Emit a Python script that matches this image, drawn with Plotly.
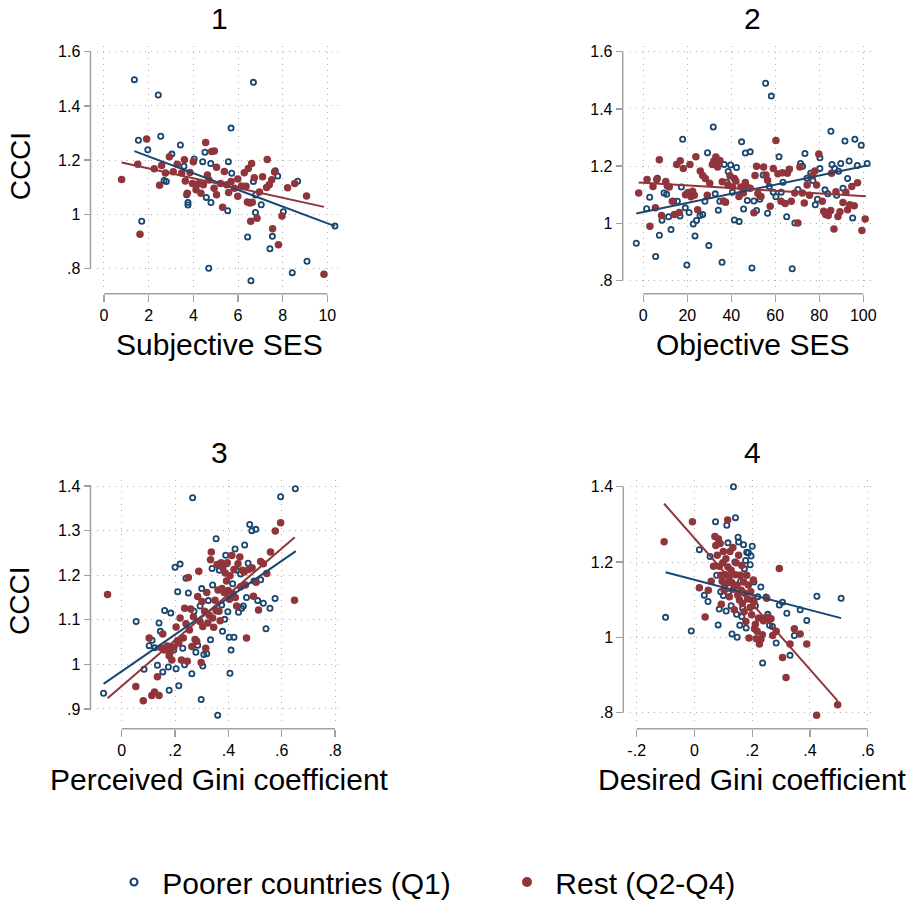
import plotly.graph_objects as go

BLUE = "#1a476f"
RED = "#90353b"
AXC = "#a0a0a0"
GRIDC = "#b0b0b0"
FONT = "Liberation Sans, Arial, Helvetica, sans-serif"

# ---------------- Panel 1: Subjective SES ----------------
p1_q1_x = [1.36, 6.69, 2.43, 5.69, 1.54, 2.54, 1.96, 3.42, 3.04, 4.52, 4.04, 4.42, 4.78, 5.57, 3.58,
           5.72, 7.67, 7.78, 8.67, 2.69, 2.79, 6.69, 6.79, 3.70, 3.76, 3.76, 4.58, 4.79, 5.54, 6.78,
           7.04, 8.03, 10.34, 1.69, 6.43, 7.54, 7.43, 9.09, 8.43, 4.69, 6.58]
p1_q1_y = [1.497, 1.487, 1.440, 1.318, 1.273, 1.288, 1.238, 1.256, 1.222, 1.229, 1.204, 1.194, 1.187, 1.194, 1.177,
           1.151, 1.160, 1.141, 1.122, 1.124, 1.121, 1.121, 1.071, 1.072, 1.043, 1.034, 1.062, 1.043, 1.013, 1.006,
           1.035, 1.009, 0.956, 0.974, 0.916, 0.918, 0.872, 0.826, 0.784, 0.800, 0.754]
p1_rest_x = [0.79, 1.51, 1.91, 1.61, 2.25, 2.49, 2.58, 2.75, 2.93, 3.10, 3.28, 3.48, 3.60, 3.64, 3.73,
             3.85, 3.96, 4.00, 4.12, 4.22, 4.34, 4.45, 4.55, 4.63, 4.70, 4.82, 4.94, 4.93, 5.04, 5.04,
             5.22, 5.31, 5.39, 5.49, 5.58, 5.69, 5.84, 5.99, 5.99, 6.16, 6.28, 6.36, 6.46, 6.61, 6.42,
             6.54, 6.64, 6.73, 6.57, 6.85, 6.96, 7.10, 7.28, 7.40, 7.51, 7.31, 7.64, 7.55, 7.81, 7.97,
             8.22, 8.54, 9.07, 9.85]
p1_rest_y = [1.128, 1.184, 1.278, 0.926, 1.168, 1.107, 1.180, 1.152, 1.212, 1.157, 1.184, 1.152, 1.201, 1.123, 1.077,
             1.154, 1.113, 1.194, 1.090, 1.112, 1.077, 1.109, 1.265, 1.145, 1.126, 1.232, 1.233, 1.096, 1.173, 1.072,
             1.113, 1.026, 1.158, 1.109, 1.080, 1.121, 1.096, 1.066, 1.130, 1.104, 1.153, 1.103, 1.169, 1.187, 1.045,
             1.041, 1.044, 1.135, 0.974, 0.985, 1.082, 1.138, 1.099, 1.109, 1.127, 1.202, 1.156, 0.946, 0.887, 0.993,
             1.098, 1.113, 1.067, 0.778]
p1_fit_q1_x = [1.36, 10.34]
p1_fit_q1_y = [1.233, 0.956]
p1_fit_rest_x = [0.79, 9.85]
p1_fit_rest_y = [1.191, 1.027]

# ---------------- Panel 2: Objective SES ----------------
p2_q1_x = [-3.2, 1.5, 2.9, 6.4, 5.6, 7.3, 8.5, 9.4, 10.6, 11.5, 12.6, 13.8, 15.5, 16.7, 17.3, 17.9, 19.1, 19.8,
           20.8, 22.7, 23.5, 24.2, 25.8, 27.0, 28.0, 29.2, 29.8, 31.8, 32.7, 34.1, 34.8, 35.8, 36.8, 37.9,
           38.6, 39.7, 40.5, 41.4, 42.4, 43.6, 44.7, 45.6, 46.4, 47.3, 48.6, 49.4, 50.3, 51.5, 53.0, 54.5,
           55.6, 56.5, 57.3, 58.2, 59.1, 60.3, 61.7, 62.7, 63.5, 65.2, 67.7, 68.9, 70.3, 71.5, 72.4, 73.5,
           74.4, 76.1, 77.1, 78.2, 79.2, 80.3, 80.3, 82.6, 83.9, 85.3, 85.8, 87.0, 87.9, 88.8, 89.8, 90.8,
           91.7, 92.9, 93.6, 95.2, 96.2, 97.3, 99.1, 101.8]
p2_q1_y = [0.930, 1.051, 1.091, 1.158, 0.884, 0.958, 1.011, 1.106, 1.102, 1.023, 0.978, 1.077, 1.077, 1.026, 1.127,
           1.294, 1.054, 0.854, 1.038, 0.998, 0.956, 1.010, 1.027, 1.031, 1.077, 1.247, 0.922, 1.337, 1.103,
           1.046, 1.077, 0.864, 1.206, 1.144, 1.181, 1.204, 1.109, 1.012, 1.195, 1.006, 1.285, 1.050, 1.246,
           1.080, 1.250, 0.844, 1.078, 1.045, 1.084, 1.169, 1.490, 1.035, 1.129, 1.445, 1.109, 1.093, 1.233,
           1.109, 1.144, 1.023, 0.841, 1.001, 1.118, 1.209, 1.200, 1.244, 1.158, 1.175, 1.150, 1.065, 1.084,
           1.229, 1.192, 1.117, 1.103, 1.322, 1.206, 1.192, 1.098, 1.182, 1.209, 1.123, 1.288, 1.157, 1.218,
           1.019, 1.294, 1.202, 1.273, 1.209]
p2_rest_x = [-2.1, 1.7, 3.0, 4.4, 5.5, 6.1, 7.3, 8.3, 10.2, 10.9, 11.8, 13.2, 14.1, 15.2, 16.4, 16.8, 18.2, 19.2,
             20.3, 21.2, 21.7, 22.4, 23.2, 23.9, 24.7, 25.9, 27.0, 28.2, 29.1, 30.2, 31.4, 32.1, 33.0, 33.8,
             34.8, 35.9, 36.4, 37.4, 38.6, 39.4, 40.6, 41.4, 42.1, 43.5, 44.4, 45.5, 46.4, 47.3, 48.6, 50.3,
             50.8, 51.5, 52.1, 53.5, 54.7, 55.8, 56.5, 57.7, 59.1, 60.3, 61.2, 62.6, 63.3, 64.5, 65.5, 66.4,
             67.3, 68.9, 70.3, 71.2, 72.3, 73.2, 74.5, 75.6, 76.8, 78.0, 78.8, 79.8, 81.4, 82.0, 82.9, 84.1,
             85.2, 85.6, 86.7, 87.6, 88.5, 89.4, 90.8, 92.1, 92.9, 93.9, 94.8, 95.9, 97.4, 99.4, 100.9]
p2_rest_y = [1.106, 1.153, 0.990, 1.129, 1.054, 1.153, 1.222, 1.027, 1.146, 1.131, 1.127, 1.077, 1.031, 1.206, 1.038,
             1.219, 1.192, 1.100, 1.108, 1.206, 1.093, 1.112, 1.098, 1.233, 1.047, 1.183, 1.167, 1.157, 1.098,
             1.140, 1.206, 1.218, 1.232, 1.197, 1.220, 1.145, 1.078, 1.074, 1.134, 1.166, 1.127, 1.157, 1.148,
             1.094, 1.127, 1.106, 1.143, 1.125, 1.123, 1.037, 1.167, 1.200, 1.104, 1.094, 1.197, 1.169, 1.151,
             1.060, 1.192, 1.290, 1.173, 1.077, 1.177, 1.069, 1.175, 1.189, 1.077, 1.106, 1.001, 1.197, 1.106,
             1.071, 1.134, 1.098, 1.166, 1.183, 1.134, 1.242, 1.077, 1.042, 1.031, 1.027, 1.045, 1.175, 0.980,
             1.110, 1.024, 1.040, 1.073, 1.109, 1.047, 1.065, 1.129, 1.061, 1.142, 0.975, 1.015]
p2_fit_q1_x = [-3.2, 101.8]
p2_fit_q1_y = [1.034, 1.202]
p2_fit_rest_x = [-2.1, 101.2]
p2_fit_rest_y = [1.143, 1.095]

# ---------------- Panel 3: Perceived Gini coefficient ----------------
p3_q1_x = [-0.068, 0.054, 0.084, 0.103, 0.114, 0.124, 0.134, 0.140, 0.145, 0.154, 0.161, 0.178, 0.175, 0.184,
           0.195, 0.200, 0.204, 0.210, 0.214, 0.219, 0.229, 0.236, 0.241, 0.250, 0.263, 0.266, 0.271, 0.278,
           0.285, 0.294, 0.298, 0.300, 0.304, 0.308, 0.319, 0.325, 0.333, 0.339, 0.341, 0.354, 0.360, 0.366,
           0.375, 0.378, 0.386, 0.390, 0.394, 0.398, 0.403, 0.406, 0.410, 0.416, 0.421, 0.425, 0.431, 0.438,
           0.446, 0.450, 0.456, 0.461, 0.468, 0.474, 0.480, 0.488, 0.490, 0.496, 0.503, 0.510, 0.521, 0.531,
           0.541, 0.556, 0.575, 0.596, 0.651]
p3_q1_y = [0.935, 1.096, 0.989, 1.042, 1.054, 1.037, 0.998, 1.093, 1.074, 0.983, 1.121, 0.942, 0.994, 1.115,
           1.032, 1.218, 0.990, 1.163, 0.952, 1.225, 1.036, 0.999, 1.193, 1.160, 0.979, 1.374, 1.119, 1.027,
           1.043, 1.131, 0.921, 1.170, 0.996, 1.022, 1.024, 1.143, 1.055, 1.215, 1.178, 1.282, 0.886, 1.211,
           1.133, 1.074, 1.101, 1.245, 1.226, 1.118, 1.061, 0.980, 1.032, 1.181, 1.061, 1.259, 1.211, 1.117,
           1.203, 1.126, 1.131, 1.268, 1.150, 1.227, 1.314, 1.300, 1.217, 1.187, 1.303, 1.143, 1.190, 1.137,
           1.080, 1.126, 1.148, 1.376, 1.394]
p3_rest_x = [-0.053, 0.053, 0.081, 0.103, 0.113, 0.123, 0.134, 0.140, 0.148, 0.154, 0.161, 0.171, 0.178, 0.183,
             0.188, 0.196, 0.204, 0.209, 0.214, 0.219, 0.224, 0.231, 0.236, 0.241, 0.246, 0.250, 0.254, 0.259,
             0.263, 0.269, 0.275, 0.281, 0.285, 0.289, 0.294, 0.298, 0.301, 0.304, 0.311, 0.315, 0.319, 0.323,
             0.328, 0.333, 0.336, 0.341, 0.345, 0.350, 0.354, 0.358, 0.361, 0.365, 0.369, 0.373, 0.376, 0.379,
             0.384, 0.388, 0.393, 0.396, 0.399, 0.404, 0.406, 0.413, 0.416, 0.421, 0.426, 0.431, 0.436, 0.443,
             0.446, 0.453, 0.459, 0.464, 0.468, 0.476, 0.485, 0.494, 0.504, 0.513, 0.521, 0.531, 0.544, 0.558,
             0.576, 0.596, 0.648]
p3_rest_y = [1.157, 0.950, 0.918, 1.059, 0.930, 0.938, 0.972, 0.930, 1.037, 1.068, 1.032, 1.041, 1.019, 1.028,
             1.010, 1.039, 1.084, 1.053, 1.048, 1.104, 1.010, 1.059, 1.126, 1.091, 1.007, 1.195, 1.077, 1.124,
             1.040, 1.107, 1.056, 1.052, 1.152, 1.209, 1.096, 1.004, 1.141, 1.085, 1.119, 1.036, 1.161, 1.093,
             1.110, 1.235, 1.252, 1.104, 1.083, 1.144, 1.120, 1.224, 1.167, 1.119, 1.098, 1.228, 1.170, 1.217,
             1.161, 1.205, 1.187, 1.228, 1.166, 1.146, 1.199, 1.244, 1.159, 1.213, 1.150, 1.131, 1.226, 1.241,
             1.174, 1.211, 1.207, 1.178, 1.059, 1.213, 1.216, 1.153, 1.184, 1.122, 1.231, 1.226, 1.204, 1.252,
             1.299, 1.318, 1.144]
p3_fit_q1_x = [-0.068, 0.653]
p3_fit_q1_y = [0.956, 1.254]
p3_fit_rest_x = [-0.053, 0.649]
p3_fit_rest_y = [0.924, 1.285]

# ---------------- Panel 4: Desired Gini coefficient ----------------
p4_q1_x = [-0.100, -0.011, 0.017, 0.034, 0.047, 0.054, 0.073, 0.077, 0.082, 0.086, 0.091, 0.100, 0.103, 0.110,
           0.112, 0.116, 0.118, 0.127, 0.130, 0.135, 0.137, 0.140, 0.142, 0.146, 0.148, 0.151, 0.153, 0.157,
           0.160, 0.164, 0.167, 0.170, 0.173, 0.177, 0.179, 0.181, 0.187, 0.193, 0.196, 0.200, 0.206, 0.211,
           0.219, 0.230, 0.236, 0.248, 0.254, 0.260, 0.270, 0.283, 0.294, 0.305, 0.320, 0.331, 0.346, 0.366,
           0.389, 0.424, 0.508]
p4_q1_y = [1.053, 1.017, 1.233, 1.112, 1.095, 1.215, 1.307, 1.165, 1.033, 1.075, 1.121, 1.111, 1.132, 1.070,
           1.298, 1.251, 1.117, 1.084, 1.009, 1.400, 1.132, 1.200, 1.318, 1.061, 1.000, 1.266, 1.253, 1.032,
           1.149, 1.055, 1.077, 1.246, 1.182, 1.204, 1.025, 1.226, 1.225, 1.193, 1.216, 1.242, 1.147, 1.084,
           1.108, 1.134, 0.932, 1.107, 1.061, 1.032, 1.029, 0.985, 1.086, 1.093, 1.064, 0.952, 1.005, 1.073,
           1.045, 1.109, 1.104]
p4_rest_x = [-0.105, -0.007, 0.017, 0.037, 0.048, 0.058, 0.066, 0.071, 0.074, 0.079, 0.083, 0.086, 0.089, 0.091,
             0.093, 0.096, 0.098, 0.100, 0.103, 0.106, 0.109, 0.112, 0.115, 0.116, 0.120, 0.121, 0.123, 0.127,
             0.129, 0.133, 0.135, 0.138, 0.142, 0.144, 0.148, 0.150, 0.153, 0.156, 0.159, 0.162, 0.164, 0.166,
             0.170, 0.172, 0.174, 0.178, 0.181, 0.184, 0.187, 0.189, 0.193, 0.195, 0.198, 0.202, 0.204, 0.206,
             0.208, 0.211, 0.214, 0.217, 0.222, 0.225, 0.230, 0.235, 0.239, 0.245, 0.250, 0.256, 0.265, 0.271,
             0.283, 0.294, 0.305, 0.317, 0.331, 0.346, 0.366, 0.389, 0.423, 0.496]
p4_rest_y = [1.254, 1.307, 1.132, 1.054, 1.125, 1.149, 1.189, 1.268, 1.244, 1.218, 1.261, 1.189, 1.249, 1.165,
             1.088, 1.149, 1.198, 1.228, 1.125, 1.166, 1.209, 1.144, 1.312, 1.187, 1.160, 1.108, 1.228, 1.178,
             1.146, 1.239, 1.128, 1.073, 1.166, 1.198, 1.139, 1.112, 1.218, 1.099, 1.165, 1.125, 1.191, 1.090,
             1.147, 1.068, 1.117, 1.042, 1.165, 1.102, 1.139, 0.998, 1.079, 1.121, 1.060, 1.099, 1.152, 1.093,
             1.023, 1.035, 0.996, 1.016, 1.051, 0.982, 0.995, 1.007, 1.044, 1.051, 1.104, 1.053, 1.049, 1.005,
             1.016, 1.183, 0.946, 0.893, 0.982, 1.023, 1.009, 0.982, 0.793, 0.821]
p4_fit_q1_x = [-0.100, 0.508]
p4_fit_q1_y = [1.173, 1.051]
p4_fit_rest_x = [-0.105, 0.496]
p4_fit_rest_y = [1.355, 0.831]

# ---------------- Axis ticks and titles ----------------
p1_xticks = [0, 2, 4, 6, 8, 10]
p1_xticklabels = ["0", "2", "4", "6", "8", "10"]
p1_yticks = [0.8, 1.0, 1.2, 1.4, 1.6]
p1_yticklabels = [".8", "1", "1.2", "1.4", "1.6"]
p2_xticks = [0, 20, 40, 60, 80, 100]
p2_xticklabels = ["0", "20", "40", "60", "80", "100"]
p2_yticks = [0.8, 1.0, 1.2, 1.4, 1.6]
p2_yticklabels = [".8", "1", "1.2", "1.4", "1.6"]
p3_xticks = [0, 0.2, 0.4, 0.6, 0.8]
p3_xticklabels = ["0", ".2", ".4", ".6", ".8"]
p3_yticks = [0.9, 1.0, 1.1, 1.2, 1.3, 1.4]
p3_yticklabels = [".9", "1", "1.1", "1.2", "1.3", "1.4"]
p4_xticks = [-0.2, 0, 0.2, 0.4, 0.6]
p4_xticklabels = ["-.2", "0", ".2", ".4", ".6"]
p4_yticks = [0.8, 1.0, 1.2, 1.4]
p4_yticklabels = [".8", "1", "1.2", "1.4"]

panel_titles = ["1", "2", "3", "4"]
x_titles = ["Subjective SES", "Objective SES", "Perceived Gini coefficient", "Desired Gini coefficient"]
y_title = "CCCI"
legend_names = ["Poorer countries (Q1)", "Rest (Q2-Q4)"]

W, H = 921, 908


def fx(px):
    return px / W


def fy(py):
    return 1 - py / H


panels = [
    dict(q1=(p1_q1_x, p1_q1_y), rest=(p1_rest_x, p1_rest_y),
         fq1=(p1_fit_q1_x, p1_fit_q1_y), frest=(p1_fit_rest_x, p1_fit_rest_y),
         xt=(p1_xticks, p1_xticklabels), yt=(p1_yticks, p1_yticklabels),
         xdom=(97, 341), ydom=(46, 290), xr=(-0.313, 10.612), yr=(0.7305, 1.623),
         yax=90.5, xax=296.7, ytitle=True),
    dict(q1=(p2_q1_x, p2_q1_y), rest=(p2_rest_x, p2_rest_y),
         fq1=(p2_fit_q1_x, p2_fit_q1_y), frest=(p2_fit_rest_x, p2_fit_rest_y),
         xt=(p2_xticks, p2_xticklabels), yt=(p2_yticks, p2_yticklabels),
         xdom=(630, 874), ydom=(46, 290), xr=(-6.05, 104.9), yr=(0.7768, 1.6218),
         yax=622.7, xax=296.7, ytitle=False),
    dict(q1=(p3_q1_x, p3_q1_y), rest=(p3_rest_x, p3_rest_y),
         fq1=(p3_fit_q1_x, p3_fit_q1_y), frest=(p3_fit_rest_x, p3_fit_rest_y),
         xt=(p3_xticks, p3_xticklabels), yt=(p3_yticks, p3_yticklabels),
         xdom=(97, 341), ydom=(485, 729), xr=(-0.0926, 0.8223), yr=(0.8711, 1.4133),
         yax=90.5, xax=736, ytitle=True),
    dict(q1=(p4_q1_x, p4_q1_y), rest=(p4_rest_x, p4_rest_y),
         fq1=(p4_fit_q1_x, p4_fit_q1_y), frest=(p4_fit_rest_x, p4_fit_rest_y),
         xt=(p4_xticks, p4_xticklabels), yt=(p4_yticks, p4_yticklabels),
         xdom=(630, 874), ydom=(485, 729), xr=(-0.2232, 0.6218), yr=(0.7755, 1.4176),
         yax=623.3, xax=736, ytitle=False),
]

fig = go.Figure()
layout = dict(
    width=W, height=H,
    margin=dict(l=0, r=0, t=0, b=0),
    paper_bgcolor="white", plot_bgcolor="white",
    font=dict(family=FONT, color="black"),
    showlegend=True,
)
annotations = []
shapes = []

for i, p in enumerate(panels):
    n = "" if i == 0 else str(i + 1)
    xa, ya = "x" + n, "y" + n
    fig.add_trace(go.Scatter(x=p["q1"][0], y=p["q1"][1], xaxis=xa, yaxis=ya, mode="markers",
                             marker=dict(symbol="circle-open", size=5.2, color=BLUE, line=dict(width=1.8, color=BLUE)),
                             showlegend=False, hoverinfo="skip"))
    fig.add_trace(go.Scatter(x=p["rest"][0], y=p["rest"][1], xaxis=xa, yaxis=ya, mode="markers",
                             marker=dict(symbol="circle", size=7.5, color=RED, line=dict(width=0)),
                             showlegend=False, hoverinfo="skip"))
    fig.add_trace(go.Scatter(x=p["fq1"][0], y=p["fq1"][1], xaxis=xa, yaxis=ya, mode="lines",
                             line=dict(color=BLUE, width=2), showlegend=False, hoverinfo="skip"))
    fig.add_trace(go.Scatter(x=p["frest"][0], y=p["frest"][1], xaxis=xa, yaxis=ya, mode="lines",
                             line=dict(color=RED, width=2), showlegend=False, hoverinfo="skip"))

    layout["xaxis" + n] = dict(
        domain=[fx(p["xdom"][0]), fx(p["xdom"][1])], range=list(p["xr"]),
        anchor="free", position=fy(p["xax"]),
        tickmode="array", tickvals=p["xt"][0], ticktext=p["xt"][1],
        ticks="outside", ticklen=7, tickwidth=1.3, tickcolor=AXC,
        tickfont=dict(size=16, family=FONT, color="black"),
        showline=False, zeroline=False, showgrid=True, gridcolor=GRIDC, gridwidth=1,
        griddash="1px,5px", automargin=False, fixedrange=True,
    )
    layout["yaxis" + n] = dict(
        domain=[fy(p["ydom"][1]), fy(p["ydom"][0])], range=list(p["yr"]),
        anchor="free", position=fx(p["yax"]),
        tickmode="array", tickvals=p["yt"][0], ticktext=p["yt"][1],
        ticks="outside", ticklen=7, tickwidth=1.3, tickcolor=AXC,
        tickfont=dict(size=16, family=FONT, color="black"),
        showline=False, zeroline=False, showgrid=True, gridcolor=GRIDC, gridwidth=1,
        griddash="1px,5px", automargin=False, fixedrange=True,
    )
    # Axis lines spanning the tick range only (Stata style)
    shapes.append(dict(type="line", xref="paper", yref=ya, x0=fx(p["yax"]), x1=fx(p["yax"]),
                       y0=min(p["yt"][0]), y1=max(p["yt"][0]), line=dict(color=AXC, width=1.5)))
    shapes.append(dict(type="line", xref=xa, yref="paper", x0=min(p["xt"][0]), x1=max(p["xt"][0]),
                       y0=fy(p["xax"]), y1=fy(p["xax"]), line=dict(color=AXC, width=1.5)))

    cx = (p["xdom"][0] + p["xdom"][1]) / 2
    annotations.append(dict(text=panel_titles[i], xref="paper", yref="paper", x=fx(cx), y=fy(p["ydom"][0] - 27.5),
                            xanchor="center", yanchor="middle", showarrow=False, font=dict(size=30, family=FONT)))
    annotations.append(dict(text=x_titles[i], xref="paper", yref="paper", x=fx(cx), y=fy(p["xax"] + 51.6),
                            xanchor="center", yanchor="middle", showarrow=False, font=dict(size=30, family=FONT)))
    if p["ytitle"]:
        cy = (p["ydom"][0] + p["ydom"][1]) / 2
        annotations.append(dict(text=y_title, xref="paper", yref="paper", x=fx(20), y=fy(cy),
                                xanchor="center", yanchor="middle", textangle=-90, showarrow=False,
                                font=dict(size=28, family=FONT)))

# Legend entries
fig.add_trace(go.Scatter(x=[None], y=[None], mode="markers", name=" " + legend_names[0],
                         marker=dict(symbol="circle-open", size=7, color=BLUE, line=dict(width=2.2, color=BLUE)),
                         showlegend=True))
fig.add_trace(go.Scatter(x=[None], y=[None], mode="markers", name=" " + legend_names[1],
                         marker=dict(symbol="circle", size=10, color=RED), showlegend=True))

layout["legend"] = dict(orientation="h", x=fx(114), xanchor="left", y=fy(891), yanchor="middle",
                        font=dict(size=30, family=FONT, color="black"), entrywidth=348, entrywidthmode="pixels",
                        bgcolor="rgba(0,0,0,0)", borderwidth=0, itemclick=False, itemdoubleclick=False)
layout["annotations"] = annotations
layout["shapes"] = shapes
fig.update_layout(**layout)

fig.write_html("out.html", config={"displayModeBar": False, "staticPlot": True},
               post_script="document.body.style.margin='0';document.body.style.overflow='hidden';")
